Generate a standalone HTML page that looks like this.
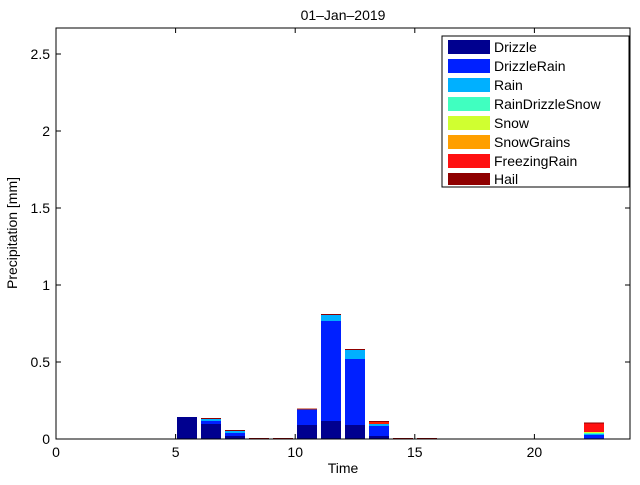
<!DOCTYPE html>
<html><head><style>
body{margin:0;background:#fff;}
svg text{font-family:"Liberation Sans",sans-serif;}
</style></head><body>
<svg width="640" height="480" xmlns="http://www.w3.org/2000/svg">
<rect width="640" height="480" fill="#fff"/>
<text x="343" y="20" font-size="14" text-anchor="middle">01–Jan–2019</text>
<g id="bars">
<!-- 5.5 -->
<rect x="177" y="417" width="20" height="22" fill="#00008f"/>
<!-- 6.5 -->
<rect x="201" y="424" width="20" height="15" fill="#00008f"/>
<rect x="201" y="421" width="20" height="3" fill="#0020ff"/>
<rect x="201" y="419" width="20" height="2" fill="#00b0ff"/>
<rect x="201" y="418" width="20" height="1" fill="#8f0000"/>
<!-- 7.5 -->
<rect x="225" y="436" width="20" height="3" fill="#00008f"/>
<rect x="225" y="433" width="20" height="3" fill="#0020ff"/>
<rect x="225" y="431" width="20" height="2" fill="#00b0ff"/>
<rect x="225" y="430" width="20" height="1" fill="#8f0000"/>
<rect x="249" y="438" width="20" height="1" fill="#8f0000"/>
<rect x="273" y="438" width="20" height="1" fill="#8f0000"/>
<!-- 10.5 -->
<rect x="297" y="425" width="20" height="14" fill="#00008f"/>
<rect x="297" y="409.5" width="20" height="15.5" fill="#0020ff"/>
<rect x="297" y="408.5" width="20" height="1" fill="#c03000"/>
<!-- 11.5 -->
<rect x="321" y="421" width="20" height="18" fill="#00008f"/>
<rect x="321" y="321" width="20" height="100" fill="#0020ff"/>
<rect x="321" y="315" width="20" height="6" fill="#00b0ff"/>
<rect x="321" y="314" width="20" height="1" fill="#8f0000"/>
<!-- 12.5 -->
<rect x="345" y="425" width="20" height="14" fill="#00008f"/>
<rect x="345" y="359" width="20" height="66" fill="#0020ff"/>
<rect x="345" y="350" width="20" height="9" fill="#00b0ff"/>
<rect x="345" y="349" width="20" height="1" fill="#8f0000"/>
<!-- 13.5 -->
<rect x="369" y="436" width="20" height="3" fill="#00008f"/>
<rect x="369" y="426" width="20" height="10" fill="#0020ff"/>
<rect x="369" y="424" width="20" height="2" fill="#00b0ff"/>
<rect x="369" y="422" width="20" height="2" fill="#ff2000"/>
<rect x="369" y="421" width="20" height="1" fill="#8f0000"/>
<rect x="393" y="438" width="20" height="1" fill="#8f0000"/>
<rect x="417" y="438" width="20" height="1" fill="#8f0000"/>
<!-- 22.5 -->
<rect x="584" y="435" width="20" height="4" fill="#0020ff"/>
<rect x="584" y="434" width="20" height="1" fill="#00b0ff"/>
<rect x="584" y="433" width="20" height="1" fill="#40ffc0"/>
<rect x="584" y="432" width="20" height="1" fill="#d0ff30"/>
<rect x="584" y="423" width="20" height="9" fill="#ff1010"/>
<rect x="584" y="422.5" width="20" height="1" fill="#8f0000"/>
</g>
<rect x="56" y="28" width="574" height="411" fill="none" stroke="#000" stroke-width="1"/>
<g stroke="#000" stroke-width="1">
<line x1="175.6" y1="439" x2="175.6" y2="434"/><line x1="175.6" y1="28" x2="175.6" y2="33"/>
<line x1="295.2" y1="439" x2="295.2" y2="434"/><line x1="295.2" y1="28" x2="295.2" y2="33"/>
<line x1="414.8" y1="439" x2="414.8" y2="434"/><line x1="414.8" y1="28" x2="414.8" y2="33"/>
<line x1="534.4" y1="439" x2="534.4" y2="434"/><line x1="534.4" y1="28" x2="534.4" y2="33"/>
<line x1="56" y1="362" x2="61" y2="362"/><line x1="630" y1="362" x2="625" y2="362"/>
<line x1="56" y1="285" x2="61" y2="285"/><line x1="630" y1="285" x2="625" y2="285"/>
<line x1="56" y1="208" x2="61" y2="208"/><line x1="630" y1="208" x2="625" y2="208"/>
<line x1="56" y1="131" x2="61" y2="131"/><line x1="630" y1="131" x2="625" y2="131"/>
<line x1="56" y1="54" x2="61" y2="54"/><line x1="630" y1="54" x2="625" y2="54"/>
</g>
<g font-size="14" text-anchor="middle">
<text x="56" y="457">0</text><text x="175.6" y="457">5</text><text x="295.2" y="457">10</text>
<text x="414.8" y="457">15</text><text x="534.4" y="457">20</text>
<text x="343" y="473">Time</text>
</g>
<g font-size="14" text-anchor="end">
<text x="50" y="444">0</text><text x="50" y="367">0.5</text><text x="50" y="290">1</text>
<text x="50" y="213">1.5</text><text x="50" y="136">2</text><text x="50" y="59">2.5</text>
</g>
<text transform="translate(17,233) rotate(-90)" font-size="14" text-anchor="middle">Precipitation [mm]</text>
<rect x="442" y="36" width="187" height="151" fill="#fff" stroke="#000"/>
<g font-size="14">
<rect x="448" y="40" width="42" height="14" fill="#00008f"/><text x="494" y="52">Drizzle</text>
<rect x="448" y="59" width="42" height="14" fill="#0020ff"/><text x="494" y="71">DrizzleRain</text>
<rect x="448" y="78" width="42" height="14" fill="#00b0ff"/><text x="494" y="90">Rain</text>
<rect x="448" y="97" width="42" height="14" fill="#40ffc0"/><text x="494" y="109">RainDrizzleSnow</text>
<rect x="448" y="116" width="42" height="14" fill="#d0ff30"/><text x="494" y="128">Snow</text>
<rect x="448" y="135" width="42" height="14" fill="#ff9f00"/><text x="494" y="147">SnowGrains</text>
<rect x="448" y="154" width="42" height="14" fill="#ff1010"/><text x="494" y="166">FreezingRain</text>
<rect x="448" y="173" width="42" height="12" fill="#8f0000"/><text x="494" y="184">Hail</text>
</g>
</svg>
</body></html>
